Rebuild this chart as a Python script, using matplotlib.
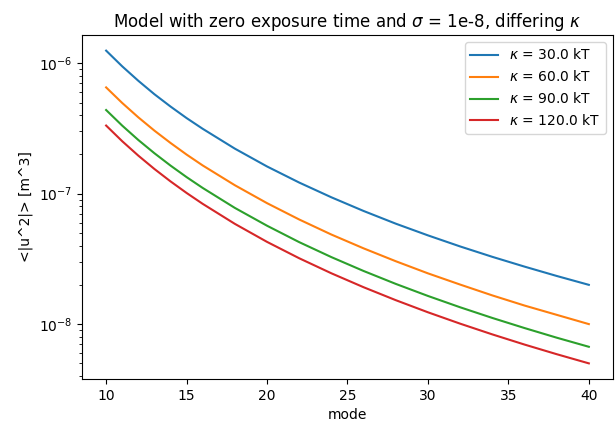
import matplotlib
matplotlib.use("Agg")
import matplotlib.pyplot as plt

# values (mean square amplitude per mode)
modes = [10, 11, 12, 13, 14, 15, 16, 18, 20, 22, 24, 26, 28, 30, 32, 34, 36, 38, 40]
kappas = [30.0, 60.0, 90.0, 120.0]
u2_k30 = [1.25e-6, 9.47e-7, 7.34e-7, 5.79e-7, 4.66e-7, 3.80e-7, 3.145e-7, 2.215e-7,
          1.617e-7, 1.217e-7, 9.38e-8, 7.37e-8, 5.89e-8, 4.79e-8, 3.94e-8, 3.28e-8,
          2.76e-8, 2.34e-8, 2.0e-8]
u2_k60 = [6.53e-7, 4.96e-7, 3.85e-7, 3.045e-7, 2.45e-7, 1.995e-7, 1.647e-7, 1.161e-7,
          8.46e-8, 6.34e-8, 4.86e-8, 3.81e-8, 3.035e-8, 2.45e-8, 2.01e-8, 1.66e-8,
          1.388e-8, 1.178e-8, 1.0e-8]
u2_k90 = [4.38e-7, 3.325e-7, 2.581e-7, 2.043e-7, 1.643e-7, 1.340e-7, 1.107e-7, 7.78e-8,
          5.68e-8, 4.25e-8, 3.263e-8, 2.555e-8, 2.034e-8, 1.644e-8, 1.346e-8, 1.115e-8,
          9.33e-9, 7.87e-9, 6.7e-9]
u2_k120 = [3.33e-7, 2.525e-7, 1.958e-7, 1.547e-7, 1.243e-7, 1.013e-7, 8.36e-8, 5.87e-8,
           4.27e-8, 3.198e-8, 2.452e-8, 1.918e-8, 1.526e-8, 1.232e-8, 1.008e-8, 8.34e-9,
           6.97e-9, 5.88e-9, 5.0e-9]

fig = plt.figure(figsize=(6.16, 4.33), dpi=100)
ax = fig.add_axes([0.1331, 0.1247, 0.862, 0.7945])

for k, vals in zip(kappas, [u2_k30, u2_k60, u2_k90, u2_k120]):
    ax.plot(modes, vals, label=rf"$\kappa$ = {k} kT")

ax.set_yscale("log")
ax.set_xlabel("mode")
ax.set_ylabel("<|u^2|> [m^3]")
ax.set_title(r"Model with zero exposure time and $\sigma$ = 1e-8, differing $\kappa$")
ax.legend(loc="upper right")

fig.savefig("out.png", dpi=100)
